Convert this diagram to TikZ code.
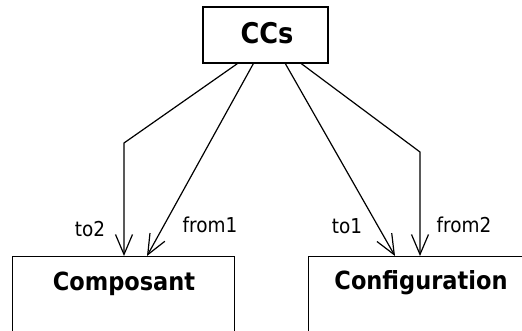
\documentclass[tikz,border=0pt]{standalone}
\usepackage{fontspec}
\setmainfont{DejaVu Sans}[FakeStretch=0.9]
\usetikzlibrary{arrows.meta}
\begin{document}
\begin{tikzpicture}[x=1pt,y=-1pt,
  box/.style={draw,line width=1.3pt,inner sep=0pt},
  conn/.style={line width=1.2pt,-{Straight Barb[length=20pt,width=17pt]}},
  role/.style={font=\fontsize{20.5}{24}\selectfont,anchor=base,inner sep=0pt},
  title/.style={font=\fontsize{25}{30}\selectfont\bfseries,anchor=base,inner sep=0pt}]
\clip (0,0) rectangle (522,330);
\fill[white] (0,0) rectangle (522,330);
% boxes
\node[box,minimum width=125pt,minimum height=56pt] (cc) at (265.5,35) {};
\node[title,font=\fontsize{28.5}{32}\selectfont\bfseries] (cct) at (267,43) {CCs};
\node[box,minimum width=222pt,minimum height=120pt,anchor=north west] (comp) at (12,256) {};
\node[title] (compt) at (124,290) {Composant};
\node[box,minimum width=260pt,minimum height=120pt,anchor=north west] (conf) at (308,256) {};
\node[title] (conft) at (421,289) {Configuration};
% bend points
\coordinate (b1) at (124,143);
\coordinate (b2) at (420,152);
% connectors
\draw[conn] ([xshift=35pt]cc.south west) -- (b1) -- (b1 |- comp.north);
\draw[conn] ([xshift=51pt]cc.south west) -- ([xshift=135pt]comp.north west);
\draw[conn] ([xshift=83pt]cc.south west) -- ([xshift=87pt]conf.north west);
\draw[conn] ([xshift=99pt]cc.south west) -- (b2) -- (b2 |- conf.north);
% role labels
\node[role] (l1) at (90,236) {to2};
\node[role] (l2) at (210,232) {from1};
\node[role] (l3) at (347,233) {to1};
\node[role] (l4) at (464,232) {from2};
\end{tikzpicture}
\end{document}
